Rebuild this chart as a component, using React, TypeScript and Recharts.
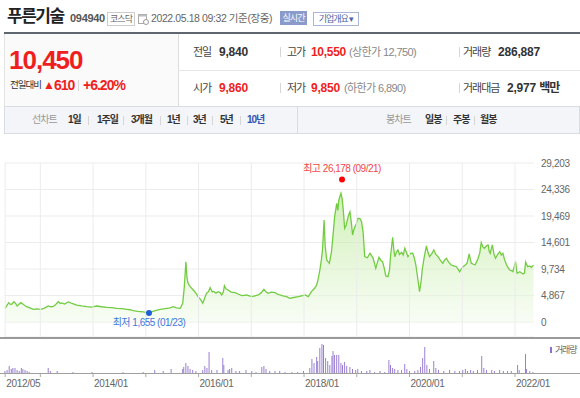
import React from "react";
import {
  AreaChart,
  Area,
  BarChart,
  Bar,
  XAxis,
  YAxis,
  CartesianGrid,
  ReferenceLine,
  ReferenceDot,
} from "recharts";

const FONT = '"Liberation Sans", "Noto Sans CJK KR", sans-serif';
const RED = "#f01f1f";

// price line (decimal year, close)
const priceDates = [
  2012.33, 2012.37, 2012.4, 2012.43, 2012.46, 2012.5, 2012.53, 2012.56, 2012.6, 2012.63, 2012.68, 2012.74,
  2012.8, 2012.87, 2012.93, 2013.0, 2013.07, 2013.15, 2013.2, 2013.25, 2013.3, 2013.34, 2013.38, 2013.41,
  2013.46, 2013.53, 2013.6, 2013.69, 2013.78, 2013.88, 2013.97, 2014.07, 2014.16, 2014.26, 2014.35, 2014.45,
  2014.55, 2014.64, 2014.7, 2014.76, 2014.85, 2014.95, 2015.02, 2015.06, 2015.12, 2015.21, 2015.3, 2015.4,
  2015.46, 2015.52, 2015.58, 2015.65, 2015.7, 2015.73, 2015.76, 2015.78, 2015.8, 2015.84, 2015.9, 2015.95,
  2015.99, 2016.04, 2016.08, 2016.12, 2016.15, 2016.19, 2016.22, 2016.26, 2016.29, 2016.33, 2016.37, 2016.41,
  2016.44, 2016.47, 2016.49, 2016.52, 2016.56, 2016.62, 2016.69, 2016.76, 2016.82, 2016.87, 2016.91, 2016.96,
  2017.01, 2017.07, 2017.13, 2017.18, 2017.24, 2017.28, 2017.32, 2017.38, 2017.45, 2017.5, 2017.54, 2017.6,
  2017.67, 2017.73, 2017.8, 2017.89, 2017.95, 2018.02, 2018.08, 2018.14, 2018.2, 2018.24, 2018.27, 2018.3,
  2018.33, 2018.35, 2018.38, 2018.4, 2018.43, 2018.46, 2018.48, 2018.52, 2018.55, 2018.58, 2018.62, 2018.64,
  2018.66, 2018.7, 2018.72, 2018.74, 2018.77, 2018.8, 2018.82, 2018.85, 2018.87, 2018.9, 2018.92, 2018.94,
  2018.96, 2018.99, 2019.02, 2019.06, 2019.09, 2019.12, 2019.15, 2019.2, 2019.25, 2019.28, 2019.31, 2019.36,
  2019.39, 2019.42, 2019.46, 2019.49, 2019.52, 2019.55, 2019.59, 2019.62, 2019.64, 2019.68, 2019.7, 2019.72,
  2019.75, 2019.78, 2019.81, 2019.85, 2019.88, 2019.91, 2019.94, 2019.97, 2020.02, 2020.06, 2020.09, 2020.12,
  2020.16, 2020.19, 2020.22, 2020.24, 2020.28, 2020.32, 2020.35, 2020.38, 2020.42, 2020.46, 2020.5, 2020.54,
  2020.58, 2020.63, 2020.66, 2020.7, 2020.74, 2020.79, 2020.84, 2020.89, 2020.95, 2021.01, 2021.05, 2021.09,
  2021.13, 2021.17, 2021.21, 2021.24, 2021.27, 2021.3, 2021.33, 2021.36, 2021.39, 2021.42, 2021.46, 2021.49,
  2021.51, 2021.53, 2021.57, 2021.6, 2021.63, 2021.67, 2021.71, 2021.74, 2021.77, 2021.8, 2021.84, 2021.87,
  2021.9, 2021.94, 2021.96, 2022.01, 2022.03, 2022.04, 2022.09, 2022.15, 2022.18, 2022.2, 2022.24, 2022.28,
  2022.31, 2022.35,
];
const prices = [
  2510, 3100, 3550, 3250, 3300, 3730, 3400, 2940, 3300, 3550, 3200, 2810,
  2600, 2330, 2400, 2330, 2500, 2940, 2800, 2870, 3300, 3730, 3400, 3500,
  3300, 3670, 3400, 3120, 2950, 2810, 2750, 2940, 2800, 2700, 2650, 2520,
  2450, 2330, 2250, 2080, 1950, 1850, 1710, 1700, 1900, 2200, 2350, 2520,
  2600, 2810, 2600, 2520, 3430, 6500, 11080, 8200, 7100, 6490, 5880, 5300,
  4650, 4100, 3430, 4500, 5270, 5600, 6300, 5500, 5600, 5300, 5570, 5400,
  4960, 5500, 6670, 6100, 5880, 5500, 5380, 5100, 4830, 4900, 4960, 4800,
  4650, 4800, 4960, 5300, 6000, 5500, 5270, 5500, 5380, 5100, 4960, 4800,
  4650, 4350, 4500, 4650, 4800, 4960, 4650, 5570, 6200, 6800, 8000, 9550,
  11500, 13230, 18740, 14000, 11390, 11000, 10780, 12910, 16000, 19340, 21800, 20500,
  22410, 23640, 22800, 21000, 17210, 17800, 18740, 19800, 20260, 18000, 15980, 16800,
  17400, 18000, 19050, 19000, 18430, 16500, 12000, 11800, 12620, 12200, 11700, 9860,
  10900, 11880, 11300, 11080, 9900, 8450, 8320, 9500, 12120, 15560, 13500, 12000,
  12800, 13230, 12400, 12800, 12300, 13540, 12800, 12000, 12600, 12620, 11800, 10470,
  7720, 5570, 7500, 9550, 12000, 13960, 12800, 12000, 12500, 13230, 12400, 12000,
  11400, 10780, 11300, 11700, 11000, 10470, 10300, 10160, 9240, 10100, 10400, 10780,
  12490, 10800, 10600, 10470, 11000, 11700, 12600, 14570, 13800, 13540, 14000, 14150,
  13000, 12600, 14150, 12500, 11700, 12400, 12910, 12300, 12620, 11500, 10470, 10000,
  9550, 9400, 9240, 11080, 9500, 8950, 9240, 8820, 9000, 11020, 10160, 10300,
  10050, 10450,
];

// volume (decimal year, thousand shares)
const volDates = [
  2012.33, 2012.37, 2012.41, 2012.45, 2012.48, 2012.52, 2012.56, 2012.6, 2012.64, 2012.67, 2012.71, 2012.75,
  2012.79, 2013.15, 2013.19, 2013.32, 2013.62, 2013.98, 2014.57, 2014.95, 2015.17, 2015.33, 2015.48, 2015.7,
  2015.72, 2015.76, 2015.8, 2015.84, 2015.89, 2015.95, 2016.08, 2016.12, 2016.16, 2016.2, 2016.25, 2016.35,
  2016.46, 2016.48, 2016.56, 2016.59, 2016.63, 2016.71, 2016.78, 2016.9, 2017.01, 2017.09, 2017.2, 2017.24,
  2017.28, 2017.35, 2017.45, 2017.54, 2017.64, 2017.77, 2017.88, 2017.99, 2018.11, 2018.15, 2018.19, 2018.24,
  2018.26, 2018.3, 2018.34, 2018.37, 2018.41, 2018.45, 2018.49, 2018.53, 2018.55, 2018.58, 2018.62, 2018.66,
  2018.7, 2018.73, 2018.77, 2018.81, 2018.87, 2018.92, 2018.98, 2019.02, 2019.09, 2019.19, 2019.25, 2019.34,
  2019.44, 2019.53, 2019.61, 2019.64, 2019.68, 2019.72, 2019.78, 2019.85, 2019.91, 2019.95, 2020.0, 2020.1,
  2020.16, 2020.21, 2020.25, 2020.29, 2020.33, 2020.38, 2020.46, 2020.5, 2020.55, 2020.65, 2020.76, 2020.86,
  2020.95, 2021.01, 2021.06, 2021.1, 2021.16, 2021.21, 2021.29, 2021.37, 2021.41, 2021.46, 2021.56, 2021.61,
  2021.71, 2021.78, 2021.86, 2021.93, 2022.05, 2022.08, 2022.2, 2022.22, 2022.28, 2022.34,
];
const volumes = [
  1000, 1500, 3500, 2000, 2500, 2500, 1500, 1000, 2500, 2000, 1500, 1000,
  500, 2500, 1000, 1000, 500, 500, 500, 500, 1500, 1000, 2000, 2000,
  3000, 5000, 3500, 2000, 1500, 1000, 1500, 3500, 2500, 10500, 1500, 1500,
  7500, 4000, 1500, 2000, 2500, 1000, 1000, 1500, 1000, 500, 3000, 3500,
  2000, 1000, 1000, 1000, 500, 500, 500, 1000, 2500, 7000, 5000, 8000,
  6000, 12500, 14500, 14000, 7500, 6000, 4000, 8500, 11000, 9000, 9000, 9000,
  5000, 4000, 5500, 3500, 3000, 2000, 1500, 2000, 1000, 1000, 1500, 500,
  1000, 500, 6500, 4000, 2500, 2000, 1500, 1500, 4500, 2000, 1000, 1000,
  1500, 3000, 7500, 13000, 4000, 2000, 6000, 2500, 1500, 1000, 1500, 1000,
  1000, 1500, 2000, 1000, 1500, 1000, 1500, 8500, 2500, 1500, 1500, 1000,
  1500, 1000, 1000, 1000, 4000, 1500, 9500, 2000, 1000, 500,
];

const yTicks = [0, 4867, 9734, 14601, 19469, 24336, 29203];
const gridYears = [2012.333, 2013, 2014, 2015, 2016, 2017, 2018, 2019, 2020, 2021, 2022];
const labelYears = [2012.333, 2014, 2016, 2018, 2020, 2022];
const labelTexts = ["2012/05", "2014/01", "2016/01", "2018/01", "2020/01", "2022/01"];

const high = { date: 2018.72, value: 26178, text: "최고 26,178 (09/21)" };
const low = { date: 2015.06, value: 1655, text: "최저 1,655 (01/23)" };

const X_DOMAIN = [2012.333, 2022.36];

const priceData = priceDates.map((d, i) => ({ d, price: prices[i] }));
const volData = volDates.map((d, i) => ({ d, vol: volumes[i] }));

const T = ({ x, y, size = 11, color = "#333", bold = false, ls = -1, children }: any) => (
  <div
    style={{
      position: "absolute",
      left: x,
      top: y - 10,
      height: 20,
      lineHeight: "20px",
      fontSize: size,
      color,
      fontWeight: bold ? 700 : 400,
      letterSpacing: ls,
      whiteSpace: "nowrap",
    }}
  >
    {children}
  </div>
);

const Sep = ({ x, y, h = 10 }: any) => (
  <div style={{ position: "absolute", left: x, top: y - h / 2, width: 1, height: h, background: "#d6d6d6" }} />
);

const XTick = ({ x, y, payload }: any) => {
  const i = labelYears.indexOf(payload.value);
  if (i < 0) return null;
  return (
    <text x={x + 1} y={y} dy="0.71em" fontSize={10} fill="#666" letterSpacing={-0.3} fontFamily={FONT}>
      {labelTexts[i]}
    </text>
  );
};

const App = () => {
  return (
    <div
      style={{
        position: "absolute",
        left: 0,
        top: 0,
        width: 580,
        height: 398,
        background: "#fff",
        fontFamily: FONT,
        overflow: "hidden",
      }}
    >
      {/* title row */}
      <T x={7} y={17} size={17} bold color="#222" ls={-1.5}>푸른기술</T>
      <T x={70} y={18} size={11} bold color="#555" ls={-0.3}>094940</T>
      <div
        style={{
          position: "absolute", left: 107, top: 12, width: 26, height: 12, border: "1px solid #ccc",
          fontSize: 9, lineHeight: "12px", textAlign: "center", color: "#666", letterSpacing: -1,
        }}
      >
        코스닥
      </div>
      <svg style={{ position: "absolute", left: 138, top: 13 }} width={11} height={12}>
        <rect x={0.5} y={1.5} width={8} height={9} fill="none" stroke="#aaa" />
        <rect x={0.5} y={1.5} width={8} height={2} fill="#bbb" />
        <circle cx={8} cy={9} r={2.5} fill="#fff" stroke="#999" />
      </svg>
      <T x={151} y={18} size={10.5} color="#666" ls={-0.4}>2022.05.18 09:32 기준(장중)</T>
      <div
        style={{
          position: "absolute", left: 280, top: 11, width: 27, height: 14, background: "#8a9acb",
          fontSize: 9, lineHeight: "14px", textAlign: "center", color: "#fff", letterSpacing: -1,
        }}
      >
        실시간
      </div>
      <div
        style={{
          position: "absolute", left: 313, top: 12, width: 44, height: 12, border: "1px solid #aab5d8",
          fontSize: 9, lineHeight: "12px", textAlign: "center", color: "#4f64a6", letterSpacing: -1,
        }}
      >
        기업개요 ▾
      </div>

      {/* summary panel */}
      <div style={{ position: "absolute", left: 4, top: 32, width: 576, height: 2, background: "#60666f" }} />
      <div
        style={{
          position: "absolute", left: 4, top: 34, width: 173, height: 72, background: "#fafafa",
          borderRight: "1px solid #dcdcdc", borderLeft: "1px solid #e4e4e4",
        }}
      />
      <div style={{ position: "absolute", left: 178, top: 70, width: 402, height: 1, background: "#e6e6e6" }} />
      <T x={9} y={60} size={26} bold color={RED} ls={-1}>10,450</T>
      <T x={10} y={85} size={9.5} color="#333" ls={-1}>전일대비</T>
      <T x={43} y={85} size={12} color={RED} ls={0}>▲</T>
      <T x={54} y={85} size={14} bold color={RED} ls={-1}>610</T>
      <Sep x={78} y={85} h={11} />
      <T x={83} y={85} size={14} bold color={RED} ls={-1}>+6.20%</T>

      <T x={193} y={52} size={11} color="#444">전일</T>
      <T x={219} y={52} size={12} bold color="#333" ls={-0.2}>9,840</T>
      <Sep x={280} y={52} />
      <T x={287} y={52} size={11} color="#444">고가</T>
      <T x={311} y={52} size={12} bold color={RED} ls={-0.3}>10,550</T>
      <T x={349} y={52} size={11} color="#888" ls={-0.6}>(상한가 12,750)</T>
      <Sep x={459} y={52} />
      <T x={463} y={52} size={11} color="#444">거래량</T>
      <T x={498} y={52} size={12} bold color="#333" ls={-0.2}>286,887</T>

      <T x={193} y={88} size={11} color="#444">시가</T>
      <T x={219} y={88} size={12} bold color={RED} ls={-0.2}>9,860</T>
      <Sep x={280} y={88} />
      <T x={287} y={88} size={11} color="#444">저가</T>
      <T x={311} y={88} size={12} bold color={RED} ls={-0.2}>9,850</T>
      <T x={344} y={88} size={11} color="#888" ls={-0.6}>(하한가 6,890)</T>
      <Sep x={459} y={88} />
      <T x={463} y={88} size={11} color="#444">거래대금</T>
      <T x={507} y={88} size={12} bold color="#333" ls={-0.2}>2,977 <span style={{ letterSpacing: -1 }}>백만</span></T>

      {/* period toolbar */}
      <div
        style={{
          position: "absolute", left: 4, top: 106, width: 574, height: 26, background: "#f3f5f8",
          border: "1px solid #d8dce3",
        }}
      />
      <div style={{ position: "absolute", left: 297, top: 107, width: 1, height: 26, background: "#d8dce3" }} />
      <T x={32} y={120} size={10} color="#999">선차트</T>
      <T x={68} y={120} size={10} bold>1일</T>
      <Sep x={88} y={120} h={9} />
      <T x={97} y={120} size={10} bold>1주일</T>
      <Sep x={123} y={120} h={9} />
      <T x={131} y={120} size={10} bold>3개월</T>
      <Sep x={160} y={120} h={9} />
      <T x={167} y={120} size={10} bold>1년</T>
      <Sep x={187} y={120} h={9} />
      <T x={193} y={120} size={10} bold>3년</T>
      <Sep x={212} y={120} h={9} />
      <T x={220} y={120} size={10} bold>5년</T>
      <Sep x={240} y={120} h={9} />
      <T x={247} y={120} size={10} bold color="#3552b0">10년</T>
      <T x={386} y={120} size={10} color="#999">봉차트</T>
      <T x={425} y={120} size={10} bold>일봉</T>
      <Sep x={446} y={120} h={9} />
      <T x={453} y={120} size={10} bold>주봉</T>
      <Sep x={474} y={120} h={9} />
      <T x={480} y={120} size={10} bold>월봉</T>

      {/* price chart */}
      <div style={{ position: "absolute", left: 0, top: 150 }}>
        <AreaChart width={580} height={187} data={priceData} margin={{ top: 13, right: 0, bottom: 0, left: 5 }}>
          <defs>
            <linearGradient id="pg" x1="0" y1="0" x2="0" y2="1">
              <stop offset="0%" stopColor="#aee584" stopOpacity={0.95} />
              <stop offset="100%" stopColor="#f2fbec" stopOpacity={0.9} />
            </linearGradient>
          </defs>
          <CartesianGrid vertical={false} stroke="#ececec" />
          <XAxis dataKey="d" type="number" domain={X_DOMAIN} hide />
          <YAxis
            orientation="right"
            width={46}
            domain={[-2755, 29203]}
            ticks={yTicks}
            interval={0}
            axisLine={false}
            tickLine={false}
            tickMargin={1}
            tick={{ fontSize: 10, fill: "#666", letterSpacing: -0.3, fontFamily: FONT }}
            tickFormatter={(v: number) => v.toLocaleString("en-US")}
          />
          {gridYears.map((g) => (
            <ReferenceLine key={g} x={g} stroke="#ececec" />
          ))}
          <Area
            type="linear"
            dataKey="price"
            stroke="#72cc42"
            strokeWidth={1.3}
            fill="url(#pg)"
            dot={false}
            activeDot={false}
            isAnimationActive={false}
          />
          <ReferenceDot
            x={high.date}
            y={high.value}
            r={3}
            fill="#f00"
            stroke="none"
            label={{ value: high.text, position: "top", offset: 4, fill: "#f04848", fontSize: 10, letterSpacing: -0.5 }}
          />
          <ReferenceDot
            x={low.date}
            y={low.value}
            r={3}
            fill="#1d5fd8"
            stroke="none"
            label={{ value: low.text, position: "bottom", offset: 3, fill: "#3f78dc", fontSize: 10, letterSpacing: -0.5 }}
          />
        </AreaChart>
      </div>
      <div style={{ position: "absolute", left: 0, top: 337, width: 580, height: 2, background: "#9a9a9a" }} />

      {/* volume chart */}
      <div style={{ position: "absolute", left: 0, top: 335 }}>
        <BarChart width={580} height={70} data={volData} margin={{ top: 6, right: 46, bottom: 0, left: 5 }}>
          <XAxis
            dataKey="d"
            type="number"
            domain={X_DOMAIN}
            ticks={gridYears}
            interval={0}
            height={32}
            axisLine={false}
            tickSize={4}
            tickMargin={3}
            tickLine={{ stroke: "#aaa" }}
            tick={<XTick />}
          />
          <YAxis hide domain={[0, 16000]} />
          <Bar dataKey="vol" fill="#9479d0" barSize={1.5} isAnimationActive={false} />
        </BarChart>
      </div>
      <div style={{ position: "absolute", left: 0, top: 373, width: 580, height: 1, background: "#a0a0a0" }} />
      <div style={{ position: "absolute", left: 550, top: 347, width: 2, height: 6, background: "#8e6fcf" }} />
      <T x={555} y={350} size={9} color="#666" ls={-1.2}>거래량</T>
    </div>
  );
};

export default App;
